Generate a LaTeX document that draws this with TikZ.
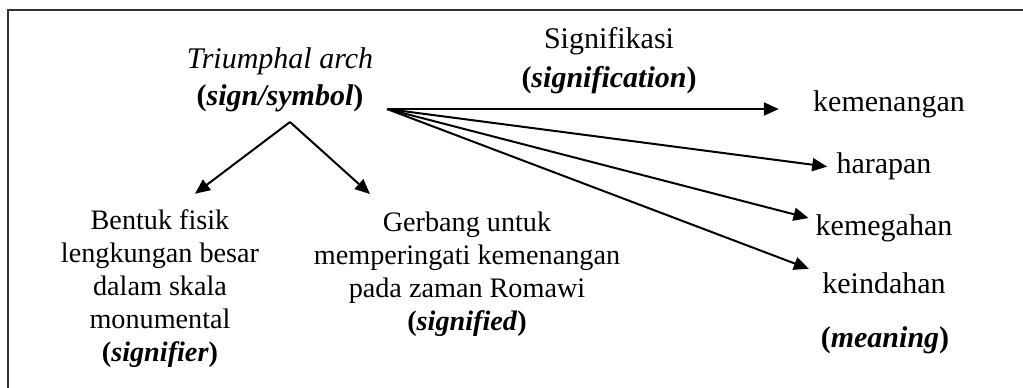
\documentclass[tikz,border=0pt]{standalone}
\usepackage{fontspec}
\setmainfont{Liberation Serif}
\usetikzlibrary{arrows.meta}

\begin{document}
\begin{tikzpicture}[x=0.5pt, y=-0.5pt,
		txt/.style={font=\fontsize{14.1}{16.5}\selectfont, align=center, inner sep=0pt, anchor=base},
		big/.style={txt, font=\fontsize{15}{18.5}\selectfont},
		arr/.style={-{Triangle[length=7.5pt, width=6.5pt]}, line width=1pt}]
		\clip (0,0) rectangle (1023,387);
		\fill[white] (0,0) rectangle (1023,387);
		\draw[line width=1pt, black!80] (8,10) rectangle (1040,400);
		
		% base = baseline of the last line
		\node[big]  (sign)  at (280,105) {\textit{Triumphal arch}\\\textbf{(\textit{sign/symbol})}};
		\node[txt]  (sgfr)  at (160,361) {Bentuk fisik\\lengkungan besar\\dalam skala\\monumental\\\textbf{(\textit{signifier})}};
		\node[txt]  (sgfd)  at (467,330) {Gerbang untuk\\memperingati kemenangan\\pada zaman Romawi\\\textbf{(\textit{signified})}};
		\node[big, font=\fontsize{15}{19.5}\selectfont]
		            (sgfc)  at (609,87)  {Signifikasi\\\textbf{(\textit{signification})}};
		\node[big]  (kem)   at (889,111) {kemenangan};
		\node[big]  (har)   at (884,173) {harapan};
		\node[big]  (keg)   at (884,235) {kemegahan};
		\node[big]  (kei)   at (884,293) {keindahan};
		\node[big]  (mean)  at (885,347) {\textbf{(\textit{meaning})}};
		
		\coordinate (apex) at (290,122);
		\coordinate (src)  at (387,109);
		
		\draw[arr] (apex) -- ([shift={(17.5pt,7.5pt)}]sgfr.north);
		\draw[arr] (apex) -- ([shift={(-48.5pt,8.5pt)}]sgfd.north);
		\draw[arr, shorten >=17pt]  (src) -- (src -| kem.west);
		\draw[arr, shorten >=4.5pt] (src) -- ([yshift=-1pt]har.west);
		\draw[arr, shorten >=3.5pt] (src) -- ([yshift=-3pt]keg.north west);
		\draw[arr, shorten >=7pt]   (src) -- ([yshift=-1pt]kei.north west);
	\end{tikzpicture}
\end{document}
